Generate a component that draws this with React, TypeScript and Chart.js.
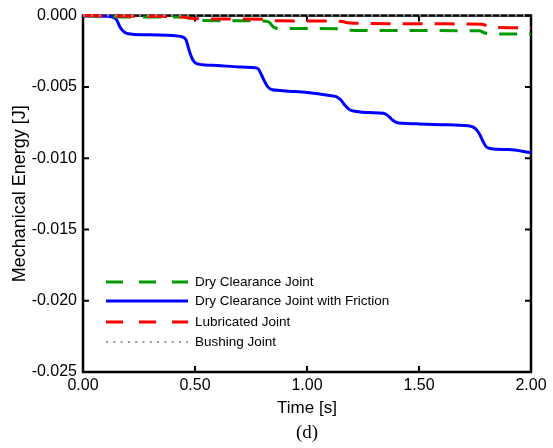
import React, { useEffect, useRef } from "react";
import { Chart, registerables } from "chart.js";

Chart.register(...registerables);

// ---------- data ----------
const dryT = [0, 0.2, 0.45, 0.47, 0.49, 0.52, 0.8, 0.83, 0.85, 0.87, 0.9, 1.15, 1.17, 1.19, 1.22, 1.77, 1.79, 1.81, 1.84, 2.0];
const dryE = [0, -0.0001, -0.0001, -0.00015, -0.0003, -0.00035, -0.00037, -0.00045, -0.0008, -0.0009, -0.00091, -0.00092, -0.00098, -0.00103, -0.00104, -0.00107, -0.0012, -0.00126, -0.00128, -0.0013];

const fricT = [0, 0.1, 0.13, 0.15, 0.165, 0.18, 0.195, 0.22, 0.3, 0.4, 0.44, 0.46, 0.475, 0.49, 0.5, 0.52, 0.6, 0.7, 0.78, 0.795, 0.81, 0.825, 0.845, 0.88, 0.92, 1.0, 1.1, 1.13, 1.15, 1.17, 1.19, 1.22, 1.28, 1.34, 1.36, 1.38, 1.4, 1.43, 1.5, 1.6, 1.72, 1.75, 1.77, 1.785, 1.8, 1.83, 1.9, 2.0];
const fricE = [-0.00002, -0.00005, -0.0001, -0.0003, -0.0008, -0.0011, -0.00125, -0.0013, -0.00135, -0.0014, -0.00148, -0.0017, -0.0025, -0.0031, -0.0033, -0.00342, -0.0035, -0.0036, -0.0037, -0.0041, -0.0046, -0.005, -0.0052, -0.00525, -0.0053, -0.0054, -0.0056, -0.00568, -0.0059, -0.0063, -0.0066, -0.00672, -0.0068, -0.00685, -0.007, -0.0073, -0.0075, -0.00755, -0.0076, -0.00765, -0.00773, -0.0079, -0.0083, -0.0088, -0.0092, -0.00935, -0.0094, -0.0096];

const lubT = [0, 0.3, 0.45, 0.47, 0.5, 0.8, 0.84, 0.87, 1.15, 1.18, 1.21, 1.6, 1.78, 1.8, 1.83, 2.0];
const lubE = [0, -0.00005, -0.0001, -0.00015, -0.00022, -0.00025, -0.00033, -0.00037, -0.0004, -0.0005, -0.00053, -0.00058, -0.0006, -0.0007, -0.00082, -0.00085];

const bushT = [0, 2.0];
const bushE = [0, 0];

const seriesNames = ["Dry Clearance Joint", "Dry Clearance Joint with Friction", "Lubricated Joint", "Bushing Joint"];
const xTicks = [0, 0.5, 1.0, 1.5, 2.0];
const yTicks = [0, -0.005, -0.01, -0.015, -0.02, -0.025];

const xTitle = "Time [s]";
const yTitle = "Mechanical Energy [J]";
const caption = "(d)";

const SANS = '"Liberation Sans", Arial, sans-serif';
const SERIF = '"Liberation Serif", "Times New Roman", serif';

const zip = (t: number[], e: number[]) => t.map((x, i) => ({ x, y: e[i] }));

const styles = [
  { color: "#009a00", dash: [18, 12], width: 3, legendDash: [17, 16] },
  { color: "#0000ff", dash: [], width: 3, legendDash: [] },
  { color: "#ff0000", dash: [20, 12], width: 3, legendDash: [17, 16] },
  { color: "#999999", dash: [2, 6], width: 2, legendDash: [2, 5.3] },
];

const framePlugin = {
  id: "frame",
  beforeDatasetsDraw(chart: any) {
    const { ctx, chartArea: ca, scales } = chart;
    ctx.save();
    ctx.strokeStyle = "#000";
    ctx.lineWidth = 2.5;
    ctx.strokeRect(ca.left, ca.top, ca.right - ca.left, ca.bottom - ca.top);
    const tl = 6;
    ctx.lineWidth = 2;
    ctx.beginPath();
    xTicks.forEach((v) => {
      const x = scales.x.getPixelForValue(v);
      ctx.moveTo(x, ca.bottom);
      ctx.lineTo(x, ca.bottom - tl);
      ctx.moveTo(x, ca.top);
      ctx.lineTo(x, ca.top + tl);
    });
    yTicks.forEach((v) => {
      const y = scales.y.getPixelForValue(v);
      ctx.moveTo(ca.left, y);
      ctx.lineTo(ca.left + tl, y);
      ctx.moveTo(ca.right, y);
      ctx.lineTo(ca.right - tl, y);
    });
    ctx.stroke();
    ctx.restore();
  },
  afterDraw(chart: any) {
    const { ctx, chartArea: ca } = chart;
    ctx.save();
    const rows = [90, 71, 50, 30];
    seriesNames.forEach((name, i) => {
      const y = ca.bottom - rows[i];
      const s = styles[i];
      ctx.strokeStyle = s.color;
      ctx.lineWidth = s.width;
      ctx.setLineDash(s.legendDash);
      ctx.beginPath();
      ctx.moveTo(ca.left + 23, y);
      ctx.lineTo(ca.left + 105, y);
      ctx.stroke();
      ctx.setLineDash([]);
      ctx.fillStyle = "#000";
      ctx.font = `13.5px ${SANS}`;
      ctx.textAlign = "left";
      ctx.textBaseline = "middle";
      ctx.fillText(name, ca.left + 112, y);
    });
    ctx.font = `19px ${SERIF}`;
    ctx.textAlign = "center";
    ctx.textBaseline = "middle";
    ctx.fillText(caption, (ca.left + ca.right) / 2, 433);
    ctx.restore();
  },
};

export default function App() {
  const ref = useRef<HTMLCanvasElement | null>(null);
  useEffect(() => {
    if (!ref.current) return;
    const mk = (i: number, t: number[], e: number[], order: number) => ({
      label: seriesNames[i],
      data: zip(t, e),
      borderColor: styles[i].color,
      backgroundColor: styles[i].color,
      borderWidth: styles[i].width,
      borderDash: styles[i].dash,
      pointRadius: 0,
      fill: false,
      cubicInterpolationMode: "monotone" as const,
      clip: false as const,
      order,
    });
    const chart = new Chart(ref.current, {
      type: "line",
      data: {
        datasets: [
          mk(3, bushT, bushE, -1),
          mk(2, lubT, lubE, 0),
          mk(0, dryT, dryE, 1),
          mk(1, fricT, fricE, 2),
        ],
      },
      options: {
        animation: false,
        responsive: false,
        layout: { padding: { left: 0, right: 22, top: 13, bottom: 0 } },
        plugins: { legend: { display: false }, tooltip: { enabled: false } },
        scales: {
          x: {
            type: "linear",
            min: 0,
            max: 2,
            afterBuildTicks: (s: any) => {
              s.ticks = xTicks.map((v) => ({ value: v }));
            },
            afterFit: (s: any) => {
              s.height = 76;
            },
            ticks: {
              autoSkip: false,
              maxRotation: 0,
              padding: 4,
              color: "#000",
              font: { family: SANS, size: 16 },
              callback: (v: any) => Number(v).toFixed(2),
            },
            grid: { display: false, drawTicks: false },
            border: { display: false },
            title: {
              display: true,
              text: xTitle,
              color: "#000",
              font: { family: SANS, size: 17 },
              padding: { top: 0, bottom: 29 },
            },
          },
          y: {
            type: "linear",
            min: -0.025,
            max: 0,
            afterBuildTicks: (s: any) => {
              s.ticks = yTicks.map((v) => ({ value: v }));
            },
            afterFit: (s: any) => {
              s.width = 83;
            },
            ticks: {
              autoSkip: false,
              padding: 6,
              color: "#000",
              font: { family: SANS, size: 16 },
              callback: (v: any) => (Math.abs(Number(v)) < 1e-12 ? "0.000" : Number(v).toFixed(3)),
            },
            grid: { display: false, drawTicks: false },
            border: { display: false },
            title: {
              display: true,
              text: yTitle,
              color: "#000",
              font: { family: SANS, size: 18 },
              padding: { top: 9, bottom: 0 },
            },
          },
        },
      },
      plugins: [framePlugin],
    });
    return () => chart.destroy();
  }, []);
  return (
    <div style={{ position: "fixed", left: 0, top: 0, width: 553, height: 448, background: "#fff" }}>
      <canvas ref={ref} width={553} height={448} />
    </div>
  );
}
